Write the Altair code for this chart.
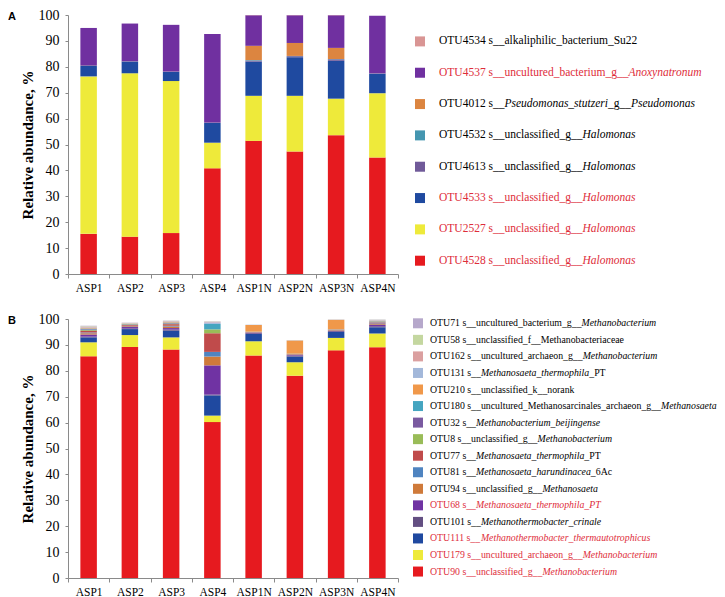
import altair as alt
import pandas as pd

SERIF = "'Liberation Serif', 'Times New Roman', Times, serif"
SANS = "'Liberation Sans', Arial, Helvetica, sans-serif"
GREY = "#8a8a8a"
RED_TXT = "#DE2D3A"

samples = ["ASP1", "ASP2", "ASP3", "ASP4", "ASP1N", "ASP2N", "ASP3N", "ASP4N"]

# ---------------- Panel A (bottom -> top stacking order) ----------------
a_otus = ["OTU4528", "OTU2527", "OTU4533", "OTU4613", "OTU4532", "OTU4012", "OTU4537", "OTU4534"]
a_colors = ["#E61A1F", "#EEEA3A", "#1F4AA0", "#705A99", "#4596B0", "#DC8540", "#7030A0", "#D99594"]
otu4528 = [15.5, 14.4, 15.8, 40.8, 51.4, 47.3, 53.6, 45.0]
otu2527 = [60.8, 63.1, 58.7, 9.9, 17.4, 21.5, 14.1, 24.8]
otu4533 = [4.0, 4.5, 3.5, 7.6, 13.2, 14.9, 14.6, 7.5]
otu4613 = [0.3, 0.2, 0.2, 0.2, 0.4, 0.4, 0.6, 0.2]
otu4532 = [0.0, 0.0, 0.0, 0.0, 0.2, 0.1, 0.1, 0.0]
otu4012 = [0.0, 0.0, 0.0, 0.0, 5.5, 5.0, 4.3, 0.0]
otu4537 = [14.4, 14.5, 18.0, 34.2, 11.8, 10.7, 12.6, 22.2]
otu4534 = [0.0, 0.0, 0.0, 0.0, 0.1, 0.1, 0.1, 0.0]
a_series = [otu4528, otu2527, otu4533, otu4613, otu4532, otu4012, otu4537, otu4534]

# legend A (top -> bottom), segments: (text, italic)
a_legend_otus = ["OTU4534", "OTU4537", "OTU4012", "OTU4532", "OTU4613", "OTU4533", "OTU2527", "OTU4528"]
a_legend_red = [False, True, False, False, False, True, True, True]
a_legend_segs = [
    [("OTU4534 s__alkaliphilic_bacterium_Su22", False)],
    [("OTU4537 s__uncultured_bacterium_g__", False), ("Anoxynatronum", True)],
    [("OTU4012 s__", False), ("Pseudomonas_stutzeri", True), ("_g__", False), ("Pseudomonas", True)],
    [("OTU4532 s__unclassified_g__", False), ("Halomonas", True)],
    [("OTU4613 s__unclassified_g__", False), ("Halomonas", True)],
    [("OTU4533 s__unclassified_g__", False), ("Halomonas", True)],
    [("OTU2527 s__unclassified_g__", False), ("Halomonas", True)],
    [("OTU4528 s__unclassified_g__", False), ("Halomonas", True)],
]

# ---------------- Panel B (bottom -> top stacking order) ----------------
b_otus = ["OTU90", "OTU179", "OTU111", "OTU101", "OTU68", "OTU94", "OTU81", "OTU77",
          "OTU8", "OTU32", "OTU180", "OTU210", "OTU131", "OTU162", "OTU58", "OTU71"]
b_colors = ["#E61A1F", "#EEEA3A", "#1F49A0", "#634F82", "#7033A3", "#CF7A3A", "#4F84C0", "#C04B4B",
            "#99BC58", "#7A5AA0", "#45A5C0", "#F0984A", "#A3B8DA", "#DBA0A0", "#C4D7A0", "#B6A8CB"]
otu90 = [85.6, 89.2, 88.2, 60.2, 85.9, 78.1, 87.9, 89.1]
otu179 = [5.4, 4.6, 4.7, 2.5, 5.5, 5.2, 4.8, 5.3]
otu111 = [1.9, 2.3, 2.6, 7.8, 2.8, 2.2, 2.3, 2.4]
otu101 = [0.3, 0.3, 0.4, 0.3, 0.3, 0.4, 0.3, 0.4]
otu68 = [0.8, 0.5, 0.6, 11.3, 0.2, 0.2, 0.2, 0.5]
otu94 = [0.5, 0.3, 0.6, 3.4, 0.1, 0.2, 0.2, 0.3]
otu81 = [0.3, 0.2, 0.3, 1.8, 0.1, 0.1, 0.1, 0.3]
otu77 = [0.6, 0.3, 0.6, 7.2, 0.1, 0.1, 0.1, 0.3]
otu8 = [0.3, 0.2, 0.2, 1.5, 0.0, 0.0, 0.0, 0.1]
otu32 = [0.3, 0.1, 0.2, 0.0, 0.0, 0.0, 0.0, 0.2]
otu180 = [0.3, 0.1, 0.2, 2.1, 0.1, 0.1, 0.1, 0.2]
otu210 = [0.2, 0.1, 0.2, 0.0, 2.6, 5.1, 3.7, 0.2]
otu131 = [0.2, 0.1, 0.2, 0.6, 0.1, 0.1, 0.1, 0.2]
otu162 = [0.3, 0.1, 0.2, 0.2, 0.0, 0.0, 0.0, 0.1]
otu58 = [0.2, 0.1, 0.1, 0.1, 0.0, 0.0, 0.0, 0.1]
otu71 = [0.2, 0.1, 0.1, 0.1, 0.0, 0.0, 0.0, 0.1]
b_series = [otu90, otu179, otu111, otu101, otu68, otu94, otu81, otu77,
            otu8, otu32, otu180, otu210, otu131, otu162, otu58, otu71]

b_legend_otus = list(reversed(b_otus))
b_legend_red = [False] * 11 + [True, False, True, True, True]
b_legend_segs = [
    [("OTU71 s__uncultured_bacterium_g__", False), ("Methanobacterium", True)],
    [("OTU58 s__unclassified_f__Methanobacteriaceae", False)],
    [("OTU162 s__uncultured_archaeon_g__", False), ("Methanobacterium", True)],
    [("OTU131 s__", False), ("Methanosaeta_thermophila", True), ("_PT", False)],
    [("OTU210 s__unclassified_k__norank", False)],
    [("OTU180 s__uncultured_Methanosarcinales_archaeon_g__", False), ("Methanosaeta", True)],
    [("OTU32 s__", False), ("Methanobacterium_beijingense", True)],
    [("OTU8 s__unclassified_g__", False), ("Methanobacterium", True)],
    [("OTU77 s__", False), ("Methanosaeta_thermophila", True), ("_PT", False)],
    [("OTU81 s__", False), ("Methanosaeta_harundinacea", True), ("_6Ac", False)],
    [("OTU94 s__unclassified_g__", False), ("Methanosaeta", True)],
    [("OTU68 s__", False), ("Methanosaeta_thermophila_PT", True)],
    [("OTU101 s__", False), ("Methanothermobacter_crinale", True)],
    [("OTU111 s__", False), ("Methanothermobacter_thermautotrophicus", True)],
    [("OTU179 s__uncultured_archaeon_g__", False), ("Methanobacterium", True)],
    [("OTU90 s__unclassified_g__", False), ("Methanobacterium", True)],
]

# ---------------- approximate Times metrics for laying out mixed-style text ----------------
LOW = "abcdefghijklmnopqrstuvwxyz"
UP = "ABCDEFGHIJKLMNOPQRSTUVWXYZ"
ROMAN = dict(zip(LOW, [444, 500, 444, 500, 444, 333, 500, 500, 278, 278, 500, 278, 778, 500, 500, 500,
                       500, 333, 389, 278, 500, 500, 722, 500, 500, 444]))
ROMAN.update(zip(UP, [722, 667, 667, 722, 611, 556, 722, 722, 333, 389, 722, 611, 889, 722, 722, 556,
                      722, 667, 556, 611, 722, 722, 944, 722, 722, 611]))
ITAL = dict(zip(LOW, [500, 500, 444, 500, 444, 278, 500, 500, 278, 278, 444, 278, 722, 500, 500, 500,
                      500, 389, 389, 278, 500, 444, 667, 444, 444, 389]))
ITAL.update(zip(UP, [611, 611, 667, 722, 611, 611, 722, 722, 333, 444, 667, 556, 833, 667, 722, 611,
                     722, 611, 500, 556, 722, 611, 833, 611, 556, 556]))
for d in (ROMAN, ITAL):
    d.update({c: 500 for c in "0123456789"})
    d.update({" ": 250, "_": 500, ",": 250})


def text_width(s, italic, fs):
    table = ITAL if italic else ROMAN
    return sum(table.get(c, 500) for c in s) * fs / 1000.0


def bar_panel(series, otus, colors, letter, width, height):
    rows = []
    for k, (otu, vals) in enumerate(zip(otus, series)):
        for s, v in zip(samples, vals):
            rows.append({"sample": s, "otu": otu, "idx": k, "value": v})
    df = pd.DataFrame(rows)
    bars = alt.Chart(df).mark_bar(width=alt.RelativeBandSize(0.4)).encode(
        x=alt.X("sample:N", sort=samples,
                scale=alt.Scale(paddingInner=0, paddingOuter=0),
                axis=alt.Axis(title=None, labelAngle=0, tickBand="extent", tickSize=4,
                              tickColor=GREY, domainColor=GREY, labelFont=SERIF,
                              labelFontSize=11.5, labelColor="black", labelPadding=4)),
        y=alt.Y("value:Q", stack="zero",
                scale=alt.Scale(domain=[0, 100], nice=False),
                axis=alt.Axis(values=list(range(0, 101, 10)), ticks=True, tickSize=3,
                              tickColor=GREY, grid=False,
                              domainColor=GREY, labelFont=SERIF, labelFontSize=14,
                              labelColor="black", labelPadding=6,
                              title="Relative abundance, %", titleFont=SERIF,
                              titleFontSize=15, titleFontWeight="bold", titleColor="black",
                              titlePadding=3)),
        color=alt.Color("otu:N", scale=alt.Scale(domain=otus, range=colors), legend=None),
        order=alt.Order("idx:Q", sort="ascending"),
    )
    lab = alt.Chart(pd.DataFrame({"t": [letter]})).mark_text(
        font=SANS, fontWeight="bold", fontSize=11, align="left", baseline="top", color="black"
    ).encode(text="t:N", x=alt.value(-60), y=alt.value(-4))
    return alt.layer(bars, lab).properties(width=width, height=height)


def legend_panel(leg_otus, otus, colors, segs, reds, fs, y0, dy, sw_x, tx, width, height):
    cmap = dict(zip(otus, colors))
    sw_rows, n_rows, i_rows = [], [], []
    for i, (otu, seg, red) in enumerate(zip(leg_otus, segs, reds)):
        y = y0 + dy * i
        sw_rows.append({"x": sw_x, "y": y, "c": cmap[otu]})
        x = tx
        for txt, it in seg:
            row = {"x": x, "y": y, "t": txt, "tc": RED_TXT if red else "black"}
            (i_rows if it else n_rows).append(row)
            x += text_width(txt, it, fs)
    xs = alt.Scale(domain=[0, width], range=[0, width], nice=False, zero=False)
    ys = alt.Scale(domain=[0, height], range=[0, height], nice=False, zero=False)
    enc = dict(x=alt.X("x:Q", scale=xs, axis=None), y=alt.Y("y:Q", scale=ys, axis=None))
    sw = alt.Chart(pd.DataFrame(sw_rows)).mark_square(size=100, opacity=1).encode(
        color=alt.Color("c:N", scale=None), **enc)
    tn = alt.Chart(pd.DataFrame(n_rows)).mark_text(
        align="left", baseline="middle", font=SERIF, fontSize=fs).encode(
        text="t:N", color=alt.Color("tc:N", scale=None), **enc)
    ti = alt.Chart(pd.DataFrame(i_rows)).mark_text(
        align="left", baseline="middle", font=SERIF, fontSize=fs, fontStyle="italic").encode(
        text="t:N", color=alt.Color("tc:N", scale=None), **enc)
    return alt.layer(sw, tn, ti).properties(width=width, height=height)


PW, PH = 330, 259
barsA = bar_panel(a_series, a_otus, a_colors, "A", PW, PH)
barsB = bar_panel(b_series, b_otus, b_colors, "B", PW, PH)
legA = legend_panel(a_legend_otus, a_otus, a_colors, a_legend_segs, a_legend_red,
                    11.5, 26.4, 31.33, 21, 40, 318, PH)
legB = legend_panel(b_legend_otus, b_otus, b_colors, b_legend_segs, b_legend_red,
                    9.8, 4.3, 16.55, 19, 31, 318, PH)

rowA = alt.hconcat(barsA, legA, spacing=0).resolve_scale(color="independent")
rowB = alt.hconcat(barsB, legB, spacing=0).resolve_scale(color="independent")

chart = alt.vconcat(rowA, rowB, spacing=18).resolve_scale(
    color="independent"
).properties(padding=0, background="white").configure_view(stroke=None)

chart.save("out.html", embed_options={"renderer": "svg", "actions": False})
